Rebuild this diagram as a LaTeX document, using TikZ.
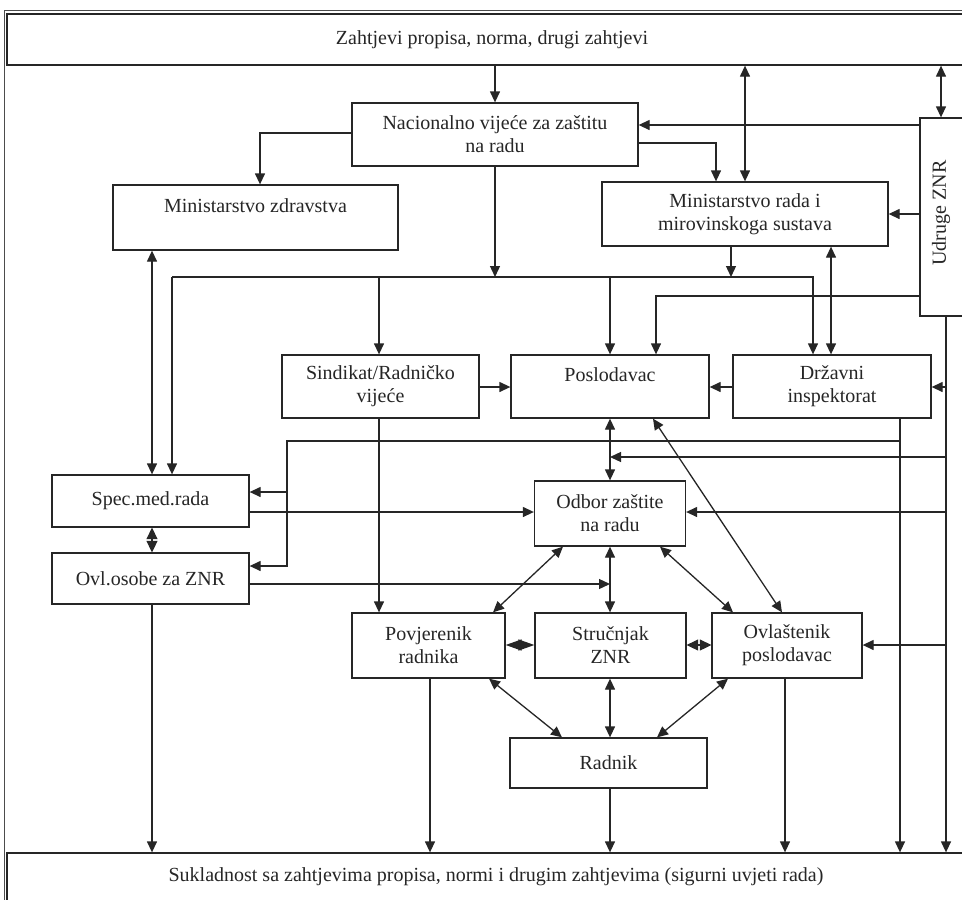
\documentclass[tikz,border=0pt]{standalone}
\usepackage{fontspec}
\setmainfont{Liberation Serif}
\usetikzlibrary{arrows.meta}
\begin{document}
\begin{tikzpicture}[x=1pt,y=-1pt,
  color=black!85,
  box/.style={draw, line width=1.3pt, rectangle, inner sep=0pt, align=center, font=\fontsize{20}{23}\selectfont},
  arr/.style={line width=1.3pt, -{Triangle[length=11pt,width=10pt]}},
  darr/.style={line width=1.3pt, {Triangle[length=11pt,width=10pt]}-{Triangle[length=11pt,width=10pt]}},
  sarrA/.style={line width=1.3pt, {Triangle[length=16pt,width=11pt]}-{Triangle[length=16pt,width=11pt]}},
  sarrB/.style={line width=1.3pt, {Triangle[length=11.5pt,width=11pt]}-{Triangle[length=11.5pt,width=11pt]}}
  ]
\fill[white] (0,0) rectangle (962,900);
\useasboundingbox (0,0) rectangle (962,900);
\clip (0,0) rectangle (962,900);
% outer frame
\draw[line width=0.9pt, black!70] (4,920) -- (4,10) -- (990,10);
% level coordinates
\coordinate (X941) at (941,0); \coordinate (X716) at (716,0); \coordinate (X260) at (260,0);
\coordinate (X731) at (731,0); \coordinate (X172) at (172,0); \coordinate (X813) at (813,0);
\coordinate (X152) at (152,0); \coordinate (X831) at (831,0); \coordinate (X656) at (656,0);
\coordinate (X946) at (946,0); \coordinate (X900) at (900,0); \coordinate (X287) at (287,0);
\coordinate (X653) at (653,0); \coordinate (X782) at (782,0); \coordinate (X563) at (563,0);
\coordinate (X493) at (493,0); \coordinate (X660) at (660,0); \coordinate (X733) at (733,0);
\coordinate (X489) at (489,0); \coordinate (X562) at (562,0); \coordinate (X728) at (728,0);
\coordinate (X657) at (657,0); \coordinate (X430) at (430,0); \coordinate (X785) at (785,0);
\coordinate (X610) at (610,0); \coordinate (X379) at (379,0);
\coordinate (Y125) at (0,125); \coordinate (Y143) at (0,143); \coordinate (Y133) at (0,133);
\coordinate (Ybus) at (0,277); \coordinate (Y296) at (0,296); \coordinate (Y457) at (0,457);
\coordinate (Y441) at (0,441); \coordinate (Y566) at (0,566); \coordinate (Y492) at (0,492);
\coordinate (Y512) at (0,512); \coordinate (Y584) at (0,584); \coordinate (Y645) at (0,645);
\coordinate (Y387) at (0,387); \coordinate (Y214) at (0,214);
% boxes
\node[box, minimum width=970, minimum height=51] (top) at (492,39.5) {Zahtjevi propisa, norma, drugi zahtjevi};
\node[box, minimum width=286, minimum height=63] (nac) at (495,134.5) {Nacionalno vijeće za zaštitu\\na radu};
\node[box, minimum width=285, minimum height=65] (mzd) at (255.5,217.5) {Ministarstvo zdravstva\\\phantom{X}};
\node[box, minimum width=286, minimum height=64] (mrs) at (745,214) {Ministarstvo rada i\\mirovinskoga sustava};
\node[box, minimum width=60, minimum height=198] (udr) at (950,217) {};
\node[font=\fontsize{20}{23}\selectfont, rotate=90, inner sep=0pt] (udrt) at (941,213) {Udruge ZNR};
\node[box, minimum width=197, minimum height=63] (sin) at (380.5,386.5) {Sindikat/Radničko\\vijeće};
\node[box, minimum width=198, minimum height=63] (pos) at (610,386.5) {Poslodavac\\\phantom{X}};
\node[box, minimum width=198, minimum height=63] (dri) at (832,386.5) {Državni\\inspektorat};
\node[box, minimum width=197, minimum height=52] (spe) at (150.5,501) {Spec.med.rada};
\node[box, minimum width=197, minimum height=51] (ovo) at (150.5,578.5) {Ovl.osobe za ZNR};
\node[box, minimum width=151, minimum height=65] (odb) at (610,513.5) {Odbor zaštite\\na radu};
\node[box, minimum width=153, minimum height=65] (pov) at (428.5,645.5) {Povjerenik\\radnika};
\node[box, minimum width=151, minimum height=65] (str) at (610.5,645.5) {Stručnjak\\ZNR};
\node[box, minimum width=150, minimum height=65] (ovl) at (787,645.5) {Ovlaštenik\\poslodavac};
\node[box, minimum width=197, minimum height=50] (rad) at (608.5,763) {Radnik};
\node[box, minimum width=978, minimum height=48] (bot) at (496,877) {Sukladnost sa zahtjevima propisa, normi i drugim zahtjevima (sigurni uvjeti rada)};
% connectors
\draw[arr] (top.south -| nac.north) -- (nac.north);
\draw[darr] (top.south -| mrs.north) -- (mrs.north);
\draw[darr] (top.south -| X941) -- (udr.north -| X941);
\draw[arr] (udr.west |- Y125) -- (nac.east |- Y125);
\draw[arr] (nac.east |- Y143) -| (X716 |- mrs.north);
\draw[arr] (nac.west |- Y133) -| (X260 |- mzd.north);
\draw[arr] (nac.south) -- (nac.south |- Ybus);
\draw[arr] (X731 |- mrs.south) -- (X731 |- Ybus);
\draw[arr] (X172 |- Ybus) -- (X172 |- spe.north);
\draw[arr] (X172 |- Ybus) -| (X813 |- dri.north);
\draw[arr] (X379 |- Ybus) -- (X379 |- sin.north);
\draw[arr] (X610 |- Ybus) -- (X610 |- pos.north);
\draw[darr] (X152 |- mzd.south) -- (X152 |- spe.north);
\draw[arr] (udr.west |- Y214) -- (mrs.east |- Y214);
\draw[darr] (X831 |- mrs.south) -- (X831 |- dri.north);
\draw[arr] (udr.west |- Y296) -| (X656 |- pos.north);
\draw[arr] (X946 |- udr.south) -- (X946 |- bot.north);
\draw[arr] (X946 |- Y387) -- (dri.east |- Y387);
\draw[arr] (X946 |- Y457) -- (X610 |- Y457);
\draw[arr] (X946 |- Y512) -- (odb.east |- Y512);
\draw[arr] (X946 |- Y645) -- (ovl.east |- Y645);
\draw[arr] (X900 |- dri.south) -- (X900 |- bot.north);
\draw[arr] (X900 |- Y441) -| (X287 |- Y566) -- (ovo.east |- Y566);
\draw[arr] (X287 |- Y492) -- (spe.east |- Y492);
\draw[arr] (sin.east |- Y387) -- (pos.west |- Y387);
\draw[arr] (dri.west |- Y387) -- (pos.east |- Y387);
\draw[arr] (X379 |- sin.south) -- (X379 |- pov.north);
\draw[darr] (X610 |- pos.south) -- (X610 |- odb.north);
\draw[darr] (X653 |- pos.south) -- (X782 |- ovl.north);
\draw[arr] (spe.east |- Y512) -- (odb.west |- Y512);
\draw[arr] (ovo.east |- Y584) -- (X610 |- Y584);
\draw[sarrB] (X152 |- spe.south) -- (X152 |- ovo.north);
\draw[darr] (X610 |- odb.south) -- (X610 |- str.north);
\draw[darr] (X563 |- odb.south) -- (X493 |- pov.north);
\draw[darr] (X660 |- odb.south) -- (X733 |- ovl.north);
\draw[sarrA] (pov.east |- Y645) -- (str.west |- Y645);
\draw[sarrB] (str.east |- Y645) -- (ovl.west |- Y645);
\draw[darr] (X489 |- pov.south) -- (X562 |- rad.north);
\draw[darr] (X610 |- str.south) -- (X610 |- rad.north);
\draw[darr] (X728 |- ovl.south) -- (X657 |- rad.north);
\draw[arr] (X152 |- ovo.south) -- (X152 |- bot.north);
\draw[arr] (X430 |- pov.south) -- (X430 |- bot.north);
\draw[arr] (X610 |- rad.south) -- (X610 |- bot.north);
\draw[arr] (X785 |- ovl.south) -- (X785 |- bot.north);
\end{tikzpicture}
\end{document}
